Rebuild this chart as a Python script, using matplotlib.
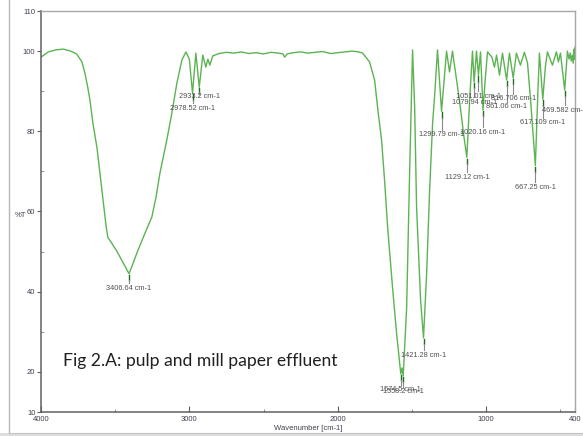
import matplotlib
matplotlib.use("Agg")
import matplotlib.pyplot as plt
from matplotlib.lines import Line2D
from matplotlib.patches import Rectangle

# FTIR transmittance spectrum (wavenumber in cm-1, %T)
wavenumber = [4000, 3950, 3900, 3850, 3800, 3760, 3724, 3704, 3685, 3670, 3650, 3623,
              3603, 3576, 3560, 3549, 3530, 3515, 3490, 3468, 3440, 3406.64, 3380,
              3353, 3300, 3253, 3225, 3198, 3152,
              3118, 3084, 3050, 3023, 3000, 2978.52, 2956, 2933.2, 2909, 2889, 2875,
              2862, 2842, 2800, 2750, 2700, 2650, 2600, 2550, 2500, 2450, 2400,
              2370, 2357, 2340, 2300, 2250, 2200, 2150, 2100, 2050, 2000, 1950,
              1900, 1860, 1832, 1785, 1751, 1731, 1704, 1684, 1663, 1630, 1603,
              1574.5, 1566, 1558.2, 1535, 1515, 1495, 1481, 1468, 1441, 1421.28,
              1400, 1380, 1360, 1347, 1327, 1299.79, 1266, 1246, 1226, 1180, 1150,
              1129.12, 1110, 1091, 1079.94, 1064, 1051.01, 1037, 1020.16, 1005,
              990, 960, 943, 929, 909, 889, 861.06, 842, 816.706, 795, 768, 741,
              720, 700, 680, 667.25, 650, 640, 617.109, 600, 586, 552, 525, 512,
              498, 469.582, 451, 440, 432, 425, 418, 412, 406, 403, 400]
transmittance = [98.5, 99.8, 100.3, 100.5, 100.0, 99.3, 97.3, 94.5, 91.0, 87.8, 82.0, 76.0,
                 69.6, 61.0, 56.0, 53.5, 52.5, 51.6, 50.2, 48.7, 46.8, 44.5, 47.0,
                 49.7, 54.5, 58.6, 63.5, 69.6, 77.8,
                 84.5, 92.0, 97.8, 99.8, 98.0, 89.5, 99.5, 91.0, 99.0, 96.0, 98.0,
                 96.5, 98.8, 99.4, 99.7, 99.5, 99.8, 99.4, 99.6, 99.3, 99.7, 99.5,
                 99.3, 98.5, 99.3, 99.6, 99.8, 99.5, 99.7, 99.9, 99.4, 99.6, 99.8,
                 100.0, 99.8, 99.5, 97.3, 92.8, 86.0, 77.8, 67.9, 56.0, 41.0, 29.7,
                 19.5, 21.0, 19.0, 36.0, 69.6, 100.3, 86.0, 61.0, 38.0, 28.5,
                 44.7, 65.4, 82.0, 88.5, 100.3, 85.0, 100.0, 94.8, 100.0, 88.0, 79.0,
                 73.5, 88.0, 100.0, 92.3, 100.0, 94.0, 99.8, 85.3, 93.0,
                 99.8, 98.5, 96.0, 99.0, 94.0, 99.5, 92.8, 99.5, 93.3, 99.5, 96.5, 99.7,
                 97.0, 88.0, 78.0, 71.5, 90.0, 99.5, 88.0, 96.0, 99.8, 96.5, 99.8, 97.3,
                 99.5, 90.3, 100.0, 98.0, 99.5, 97.5, 99.0, 97.0, 100.5, 98.0, 101.0]

# Labelled peaks: position, %T at the dip, label height
peak_pos = [3406.64, 2933.2, 2978.52, 1574.5, 1558.2, 1421.28, 1299.79, 1129.12,
            1079.94, 1051.01, 1020.16, 861.06, 816.706, 667.25, 617.109, 469.582]
peak_t = [44.5, 91.0, 89.5, 19.5, 19.0, 28.5, 85.0, 73.5,
          92.3, 94.0, 85.3, 92.8, 93.3, 71.5, 88.0, 90.3]
label_t = [40.9, 88.6, 85.8, 15.5, 15.0, 24.2, 79.1, 68.6,
           87.3, 88.8, 79.8, 86.1, 88.1, 66.1, 82.1, 85.3]

fig = plt.figure(figsize=(5.83, 4.36), dpi=100)
ax = fig.add_axes([41 / 583, 1 - 412 / 436, (575 - 41) / 583, (412 - 11) / 436])

ax.plot(wavenumber, transmittance, color="#5cb352", lw=1.0)

small = dict(family="Liberation Sans", fontsize=5.3, color="#505050")
for p, t, lt in zip(peak_pos, peak_t, label_t):
    ax.plot([p, p], [t - 0.3, t - 1.6], color="#1f6e1f", lw=1.0)
    ax.plot([p, p], [t - 1.6, lt + 1.2], color="#8a8a8a", lw=0.8)
    ax.text(p, lt, f"{p:g} cm-1", ha="center", va="center", clip_on=False, **small)

ax.text(3852, 22.7, "Fig 2.A: pulp and mill paper effluent", family="Lato",
        fontsize=12.6, color="#202020", va="center", ha="left")

ax.set_xlim(4000, 400)
ax.set_ylim(10, 110)

ax.set_yticks([10, 20, 40, 60, 80, 100, 110])
ax.set_yticks([30, 50, 70, 90], minor=True)
ax.set_xticks([4000, 3000, 2000, 1000, 400])
ax.set_xticklabels(["4000", "3000", "2000", "1000", "400"])
ax.set_xticks([3500, 2500, 1500, 500], minor=True)

tick_font = dict(labelsize=5.5, labelcolor="#404050")
ax.tick_params(axis="y", which="major", direction="out", length=3, width=0.8,
               color="#606060", pad=1, **tick_font)
ax.tick_params(axis="y", which="minor", direction="in", length=2, width=0.6,
               color="#808080")
ax.tick_params(axis="x", which="major", direction="in", length=4, width=0.8,
               color="#606060", pad=3, **tick_font)
ax.tick_params(axis="x", which="minor", direction="in", length=2, width=0.6,
               color="#808080")
for lab in ax.get_xticklabels() + ax.get_yticklabels():
    lab.set_family("Liberation Sans")

ax.set_xlabel("Wavenumber [cm-1]", family="Liberation Sans", fontsize=5.5,
              color="#404050", labelpad=1)
fig.text(20 / 583, 1 - 215 / 436, "%T", family="Liberation Sans", fontsize=5.5,
         color="#404050", ha="center", va="center")

for side in ("left", "bottom"):
    ax.spines[side].set_color("#606060")
    ax.spines[side].set_linewidth(1.1)
for side in ("top", "right"):
    ax.spines[side].set_color("#a8a8a8")
    ax.spines[side].set_linewidth(1.0)

# window frame around the plot
fig.add_artist(Line2D([8.5 / 583, 8.5 / 583], [3 / 436, 1], color="#b8b8b8", lw=1.0,
                      transform=fig.transFigure))
fig.add_artist(Rectangle((0, 0), 1, 3.5 / 436, transform=fig.transFigure,
                         facecolor="#dedede", edgecolor="none"))
fig.add_artist(Line2D([8.5 / 583, 1], [3.5 / 436, 3.5 / 436], color="#c4c4c4", lw=0.8,
                      transform=fig.transFigure))

fig.savefig("out.png", dpi=100)
